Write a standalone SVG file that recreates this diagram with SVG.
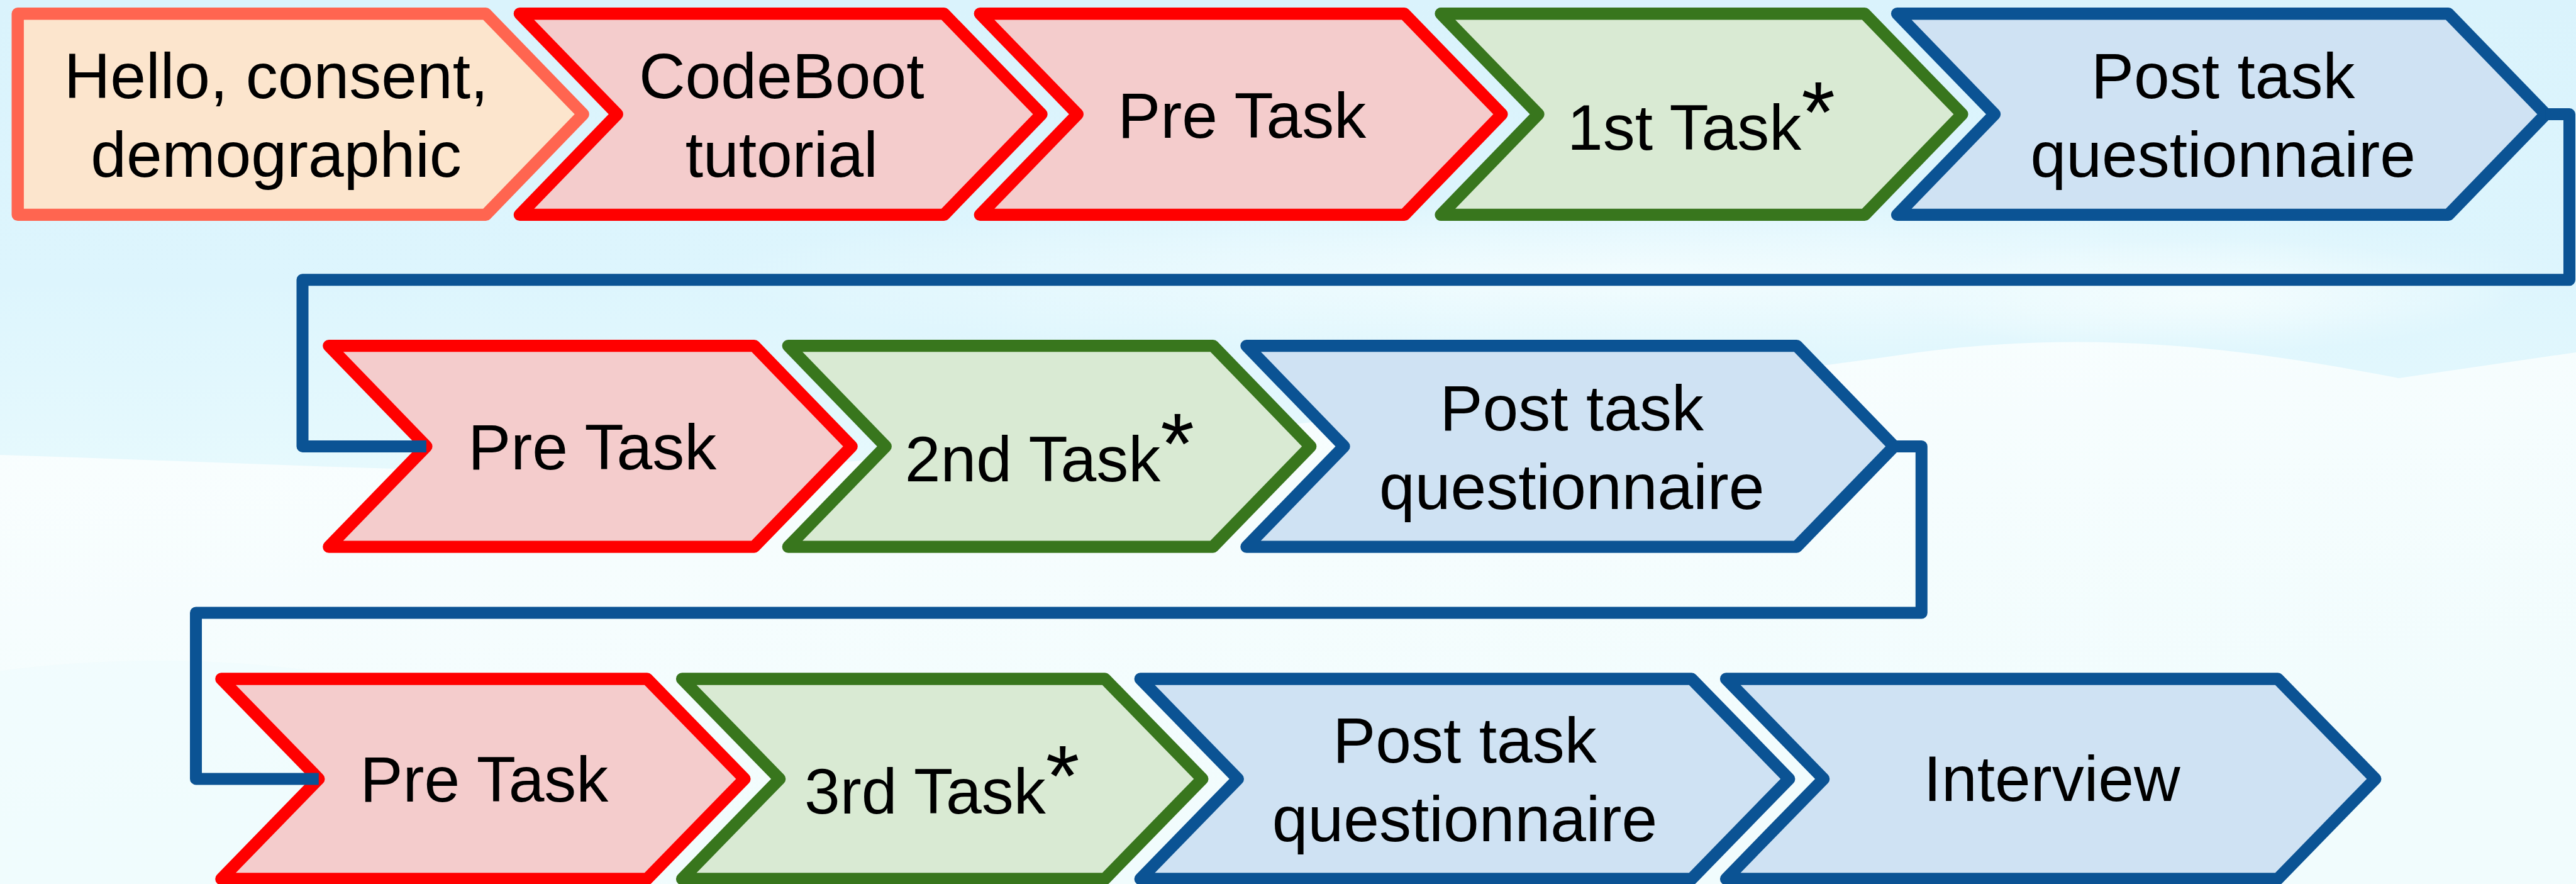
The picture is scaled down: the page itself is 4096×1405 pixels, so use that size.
<svg xmlns="http://www.w3.org/2000/svg" width="4096" height="1405" viewBox="0 0 4096 1405">
<defs>
<linearGradient id="skyG" x1="0" y1="0" x2="0" y2="1">
<stop offset="0" stop-color="#DAF3FC"/>
<stop offset="0.6" stop-color="#DDF5FD"/>
<stop offset="1" stop-color="#E6F9FD"/>
</linearGradient>
<linearGradient id="lowG" x1="0" y1="0" x2="0.3" y2="1">
<stop offset="0" stop-color="#FFFFFF"/>
<stop offset="1" stop-color="#F1FCFD"/>
</linearGradient>
<radialGradient id="waveG" cx="0.5" cy="0.5" r="0.5">
<stop offset="0" stop-color="#F4FDFE" stop-opacity="0.95"/>
<stop offset="1" stop-color="#F4FDFE" stop-opacity="0"/>
</radialGradient>
<style>
.node polygon{stroke-width:19.4;stroke-linejoin:round}
.orange{fill:#FCE5CD;stroke:#FF6550}
.red{fill:#F4CCCC;stroke:#FF0000}
.green{fill:#D9EAD3;stroke:#38761D}
.blue{fill:#CFE2F3;stroke:#0B5394}
.lbl{font-family:"Liberation Sans",Arial,Helvetica,sans-serif;font-size:102px;fill:#000;text-anchor:middle}
.ast{font-size:138px}
.conn{fill:none;stroke:#0B5394;stroke-width:19;stroke-linejoin:round;stroke-linecap:butt}
</style>
</defs>
<g id="background">
<rect x="0" y="0" width="4096" height="1405" fill="url(#lowG)"/>
<path d="M0,0 H4096 V560 L3814,601 C3600,560 3350,520 3050,560 C2500,640 1800,700 1200,745 C800,760 400,735 0,723 Z" fill="url(#skyG)"/>
<ellipse cx="2600" cy="440" rx="1500" ry="130" fill="url(#waveG)"/>
<ellipse cx="3500" cy="470" rx="500" ry="90" fill="url(#waveG)"/>
<ellipse cx="250" cy="1300" rx="700" ry="250" fill="#EEFBFD" opacity="0.5"/>
</g>
<g id="node-hello" class="node">
<polygon class="orange" points="28.2,21.8 772.3,21.8 927.2,181.6 772.3,341.4 28.2,341.4"/>
<text class="lbl" x="439" y="155.8">Hello, consent,</text>
<text class="lbl" x="439" y="280.8">demographic</text>
</g>
<g id="node-codeboot" class="node">
<polygon class="red" points="826.4,21.8 1501,21.8 1656,181.6 1501,341.4 826.4,341.4 981.3,181.6"/>
<text class="lbl" x="1242.8" y="155.8">CodeBoot</text>
<text class="lbl" x="1242.8" y="280.8">tutorial</text>
</g>
<g id="node-pretask1" class="node">
<polygon class="red" points="1558.3,21.8 2233,21.8 2387.9,181.6 2233,341.4 1558.3,341.4 1713.3,181.6"/>
<text class="lbl" x="1974.7" y="218.7">Pre Task</text>
</g>
<g id="node-task1" class="node">
<polygon class="green" points="2291.1,21.8 2964.9,21.8 3119.9,181.6 2964.9,341.4 2291.1,341.4 2446,181.6"/>
<text class="lbl" x="2705" y="238.1">1st Task<tspan class="ast" dy="-12">*</tspan></text>
</g>
<g id="node-post1" class="node">
<polygon class="blue" points="3016.6,21.8 3893,21.8 4047.9,181.6 3893,341.4 3016.6,341.4 3171.5,181.6"/>
<text class="lbl" x="3534.7" y="155.8">Post task</text>
<text class="lbl" x="3534.7" y="280.8">questionnaire</text>
</g>
<g id="node-pretask2" class="node">
<polygon class="red" points="522.9,549.6 1199.2,549.6 1354.1,709.4 1199.2,869.1 522.9,869.1 677.9,709.4"/>
<text class="lbl" x="941.8" y="745.7">Pre Task</text>
</g>
<g id="node-task2" class="node">
<polygon class="green" points="1253.3,549.6 1928.7,549.6 2083.7,709.4 1928.7,869.1 1253.3,869.1 1408.2,709.4"/>
<text class="lbl" x="1668.9" y="765">2nd Task<tspan class="ast" dy="-12">*</tspan></text>
</g>
<g id="node-post2" class="node">
<polygon class="blue" points="1982,549.6 2856.8,549.6 3011.7,709.4 2856.8,869.1 1982,869.1 2137,709.4"/>
<text class="lbl" x="2499.3" y="683.5">Post task</text>
<text class="lbl" x="2499.3" y="808.6">questionnaire</text>
</g>
<g id="node-pretask3" class="node">
<polygon class="red" points="351.9,1079 1028.9,1079 1183.9,1237.9 1028.9,1396.9 351.9,1396.9 506.8,1237.9"/>
<text class="lbl" x="769.9" y="1274.3">Pre Task</text>
</g>
<g id="node-task3" class="node">
<polygon class="green" points="1084.6,1079 1756.8,1079 1911.8,1237.9 1756.8,1396.9 1084.6,1396.9 1239.6,1237.9"/>
<text class="lbl" x="1497.8" y="1292.8">3rd Task<tspan class="ast" dy="-12">*</tspan></text>
</g>
<g id="node-post3" class="node">
<polygon class="blue" points="1813.3,1079 2689.7,1079 2844.7,1237.9 2689.7,1396.9 1813.3,1396.9 1968.3,1237.9"/>
<text class="lbl" x="2329" y="1212.1">Post task</text>
<text class="lbl" x="2329" y="1337.2">questionnaire</text>
</g>
<g id="node-interview" class="node">
<polygon class="blue" points="2744.6,1079 3621.8,1079 3776.8,1237.9 3621.8,1396.9 2744.6,1396.9 2899.6,1237.9"/>
<text class="lbl" x="3262.7" y="1273.4">Interview</text>
</g>
<g id="connectors">
<path class="conn" d="M4047.9,181.6 H4085.5 V444.7 H481 V709.4 H677.9"/>
<path class="conn" d="M3011.7,709.4 H3055.3 V974 H311.5 V1237.9 H506.8"/>
</g>
</svg>
